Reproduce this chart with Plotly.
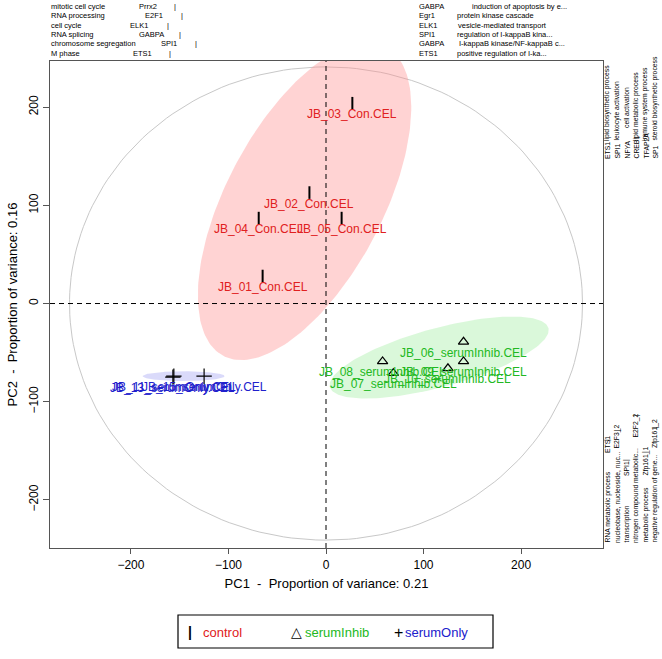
import numpy as np
import plotly.graph_objects as go

# PCA scores (PC1, PC2) per sample
control_names = ["JB_01_Con.CEL", "JB_02_Con.CEL", "JB_03_Con.CEL", "JB_04_Con.CEL", "JB_05_Con.CEL"]
control_pc1 = [-65, -17, 27, -69, 16]
control_pc2 = [28, 113, 204, 87, 87]

inhib_names = ["JB_06_serumInhib.CEL", "JB_07_serumInhib.CEL", "JB_08_serumInhib.CEL",
               "JB_09_serumInhib.CEL", "JB_10_serumInhib.CEL"]
inhib_pc1 = [141, 69, 58, 141, 125]
inhib_pc2 = [-39, -71, -59, -59, -66]

only_names = ["JB_11_serumOnly.CEL", "JB_13_serumOnly.CEL", "JB_15_serumOnly.CEL"]
only_pc1 = [-156, -157, -125]
only_pc2 = [-74, -75, -74]

# group ellipses: centre, semi-axes and rotation (degrees)
ell_control = (-22, 104, 178, 80, 62)
ell_inhib = (116, -55, 116, 30, 15)
ell_only = (-146, -74, 42, 5, 0)
ref_ellipse = (0, 0, 263, 241, 0)

# GO-term / TF annotations around the plot
tl_go = ["mitotic cell cycle", "RNA processing", "cell cycle", "RNA splicing",
         "chromosome segregation", "M phase"]
tl_tf = ["Prrx2", "E2F1", "ELK1", "GABPA", "SPI1", "ETS1"]
tr_tf = ["GABPA", "Egr1", "ELK1", "SPI1", "GABPA", "ETS1"]
tr_go = ["induction of apoptosis by e...", "protein kinase cascade", "vesicle-mediated transport",
         "regulation of I-kappaB kina...", "I-kappaB kinase/NF-kappaB c...", "positive regulation of I-ka..."]
rt_tf = ["ETS1", "SPI1", "NFYA", "CREB1", "TFAP2A", "SP1"]
rt_go = ["lipid biosynthetic process", "leukocyte activation", "cell activation",
         "lipid metabolic process", "immune system process", "steroid biosynthetic process"]
rb_go = ["RNA metabolic process", "nucleobase, nucleoside, nuc...", "transcription",
         "nitrogen compound metabolic...", "metabolic process", "negative regulation of gene..."]
rb_tf = ["ETS1", "E2F3_2", "SPI1", "E2F2_2", "Zfp161_1", "Zfp161_2"]

RED, GREEN, BLUE = "#E02020", "#22B822", "#2020CC"
FONT = "Liberation Sans, Arial, sans-serif"

# plot area in pixels
L, R, T, B = 50, 603, 61, 548
W, H = 662, 659


def px(x):
    return (x - L) / (R - L)


def py(y):
    return (B - y) / (B - T)


def ellipse(cx, cy, a, b, ang, n=200):
    t = np.linspace(0, 2 * np.pi, n)
    th = np.radians(ang)
    x = cx + a * np.cos(t) * np.cos(th) - b * np.sin(t) * np.sin(th)
    y = cy + a * np.cos(t) * np.sin(th) + b * np.sin(t) * np.cos(th)
    return x, y


fig = go.Figure()

ex, ey = ellipse(*ref_ellipse)
fig.add_trace(go.Scatter(x=ex, y=ey, mode="lines", line=dict(color="#C8C8C8", width=1),
                         hoverinfo="skip"))

groups = [
    (control_pc1, control_pc2, control_names, ell_control, RED, "rgba(255,140,140,0.38)",
     dict(symbol="line-ns-open", size=9, color="black", line=dict(color="black", width=2))),
    (inhib_pc1, inhib_pc2, inhib_names, ell_inhib, GREEN, "rgba(150,235,150,0.35)",
     dict(symbol="triangle-up-open", size=9, color="black", line=dict(color="black", width=1.2))),
    (only_pc1, only_pc2, only_names, ell_only, BLUE, "rgba(150,150,240,0.35)",
     dict(symbol="cross-thin-open", size=11, color="black", line=dict(color="black", width=1.2))),
]

for xs, ys, names, ell, col, fill, mk in groups:
    ex, ey = ellipse(*ell)
    fig.add_trace(go.Scatter(x=ex, y=ey, mode="lines", fill="toself", fillcolor=fill,
                             line=dict(width=0), hoverinfo="skip"))

fig.add_hline(y=0, line=dict(color="black", width=1, dash="5px,4px"))
fig.add_vline(x=0, line=dict(color="black", width=1, dash="5px,4px"))

ann = []
for xs, ys, names, ell, col, fill, mk in groups:
    fig.add_trace(go.Scatter(x=xs, y=ys, mode="markers", marker=mk, hoverinfo="skip"))
    for x, y, n in zip(xs, ys, names):
        ann.append(dict(x=x, y=y, xref="x", yref="y", text=n, showarrow=False, yshift=-11,
                        xanchor="center", yanchor="middle",
                        font=dict(color=col, size=12, family=FONT)))

small = dict(size=7.5, color="black", family=FONT)
rot = dict(size=6.8, color="black", family=FONT)
side = []

# top-left rows
tl_y = [6, 15.5, 25, 34.5, 44, 53.5]
tl_tfx = [137, 143, 128, 137, 159, 131]
tl_bar = [175, 182, 168, 180, 196, 170]
for i in range(6):
    side.append(dict(x=px(49), y=py(tl_y[i]), text=tl_go[i], xanchor="left", font=small))
    side.append(dict(x=px(tl_tfx[i]), y=py(tl_y[i]), text=tl_tf[i], xanchor="left", font=small))
    side.append(dict(x=px(tl_bar[i]), y=py(tl_y[i]), text="|", xanchor="center", font=small))

# top-right rows
tr_gox = [470, 455, 456, 455, 457, 455]
for i in range(6):
    side.append(dict(x=px(417), y=py(tl_y[i]), text=tr_tf[i], xanchor="left", font=small))
    side.append(dict(x=px(tr_gox[i]), y=py(tl_y[i]), text=tr_go[i], xanchor="left", font=small))

# right side, rotated
col_x = [613, 622.5, 632, 641.5, 651, 660.5]
rt_goy = [143, 143, 130, 143, 143, 143]
for i in range(6):
    side.append(dict(x=px(col_x[i]), y=py(161), text=rt_tf[i], yanchor="bottom",
                     textangle=-90, font=rot))
    side.append(dict(x=px(col_x[i]), y=py(rt_goy[i]), text=rt_go[i], yanchor="bottom",
                     textangle=-90, font=rot))

rb_tfy = [455, 451, 478, 440, 478, 450]
rb_bar = [440, 431, 460, 416, 452, 428]
for i in range(6):
    side.append(dict(x=px(col_x[i]), y=py(545), text=rb_go[i], yanchor="bottom",
                     textangle=-90, font=rot))
    side.append(dict(x=px(col_x[i]), y=py(rb_tfy[i]), text=rb_tf[i], yanchor="bottom",
                     textangle=-90, font=rot))
    side.append(dict(x=px(col_x[i]), y=py(rb_bar[i]), text="|", yanchor="middle",
                     textangle=-90, font=rot))

for a in side:
    a.update(xref="paper", yref="paper", showarrow=False,
             yanchor=a.get("yanchor", "middle"))
ann += side

# legend
leg_y = py(632)
leg = [
    (190, "<b>|</b>", "black", 14), (201, "control", RED, 13),
    (296, "△", "black", 14), (303, "serumInhib", GREEN, 13),
    (398, "+", "black", 16), (403, "serumOnly", BLUE, 13),
]
for x0, t, c, s in leg:
    ann.append(dict(x=px(x0), y=leg_y, xref="paper", yref="paper", text=t, showarrow=False,
                    xanchor="center" if t in ("<b>|</b>", "△", "+") else "left",
                    yanchor="middle", font=dict(size=s, color=c, family=FONT)))

fig.add_shape(type="rect", xref="paper", yref="paper", x0=px(178), x1=px(493),
              y0=py(648), y1=py(615), line=dict(color="black", width=1.2))

fig.update_layout(
    width=W, height=H,
    margin=dict(l=L, r=W - R, t=T, b=H - B),
    plot_bgcolor="white", paper_bgcolor="white",
    showlegend=False,
    annotations=ann,
    font=dict(family=FONT, size=12, color="black"),
)
fig.update_xaxes(range=[-283, 284], tickvals=[-200, -100, 0, 100, 200], showgrid=False,
                 zeroline=False, showline=True, linecolor="#555", linewidth=1.2, mirror=True,
                 ticks="outside", ticklen=5, tickcolor="#555",
                 title=dict(text="PC1  -  Proportion of variance: 0.21", standoff=8,
                            font=dict(size=13)))
fig.update_yaxes(range=[-249, 247], tickvals=[-200, -100, 0, 100, 200], showgrid=False,
                 zeroline=False, showline=True, linecolor="#555", linewidth=1.2, mirror=True,
                 ticks="outside", ticklen=6, tickcolor="#555", tickangle=-90,
                 title=dict(text="PC2  -  Proportion of variance: 0.16", standoff=6,
                            font=dict(size=13)))

fig.write_html("out.html", config={"displayModeBar": False},
               post_script="document.body.style.margin='0';")
